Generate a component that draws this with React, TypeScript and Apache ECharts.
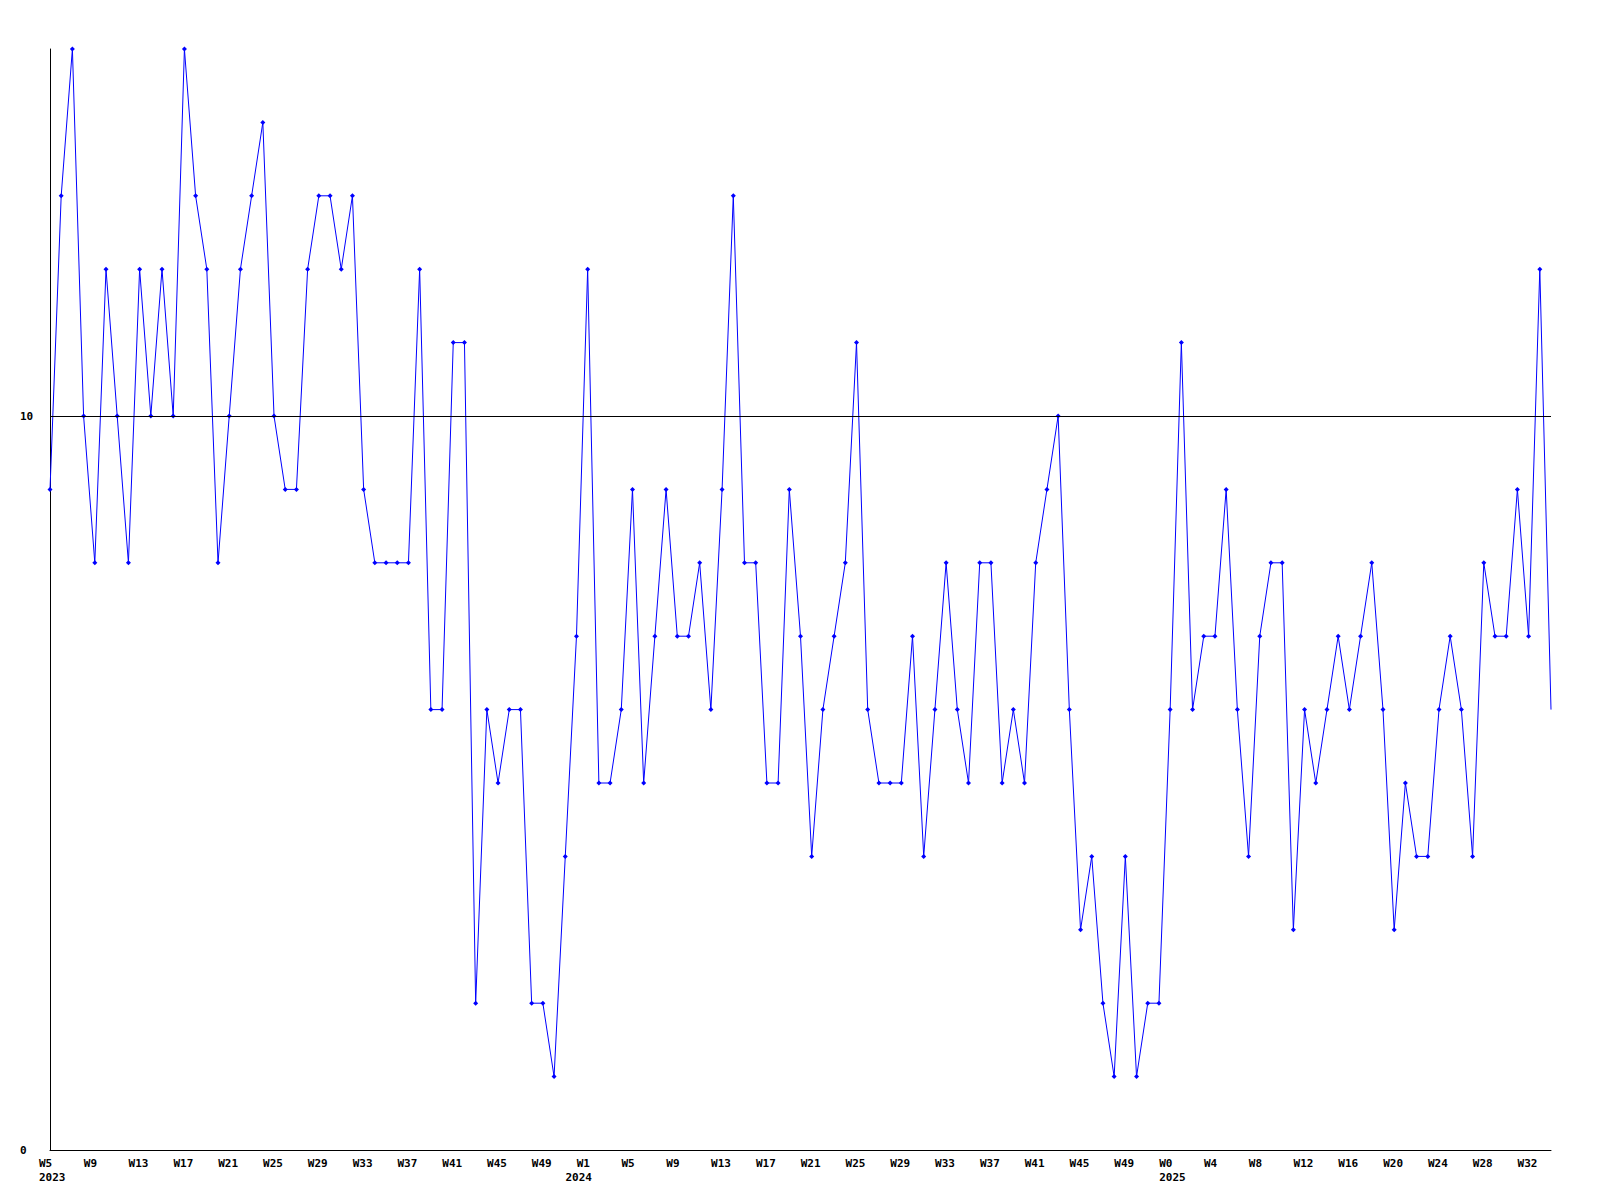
import React, { useEffect, useRef } from "react";
import * as echarts from "echarts";

// Week ranges covered by the x axis (week numbers as printed on the chart)
const weekRanges = [
  { year: 2023, first: 5, last: 52 },
  { year: 2024, first: 1, last: 52 },
  { year: 2025, first: 0, last: 34 },
];

// Year labels under the axis, and the category they are printed at
const yearLabels = [
  { text: "2023", at: "2023-W5" },
  { text: "2024", at: "2023-W52" },
  { text: "2025", at: "2025-W0" },
];

// Weekly values
const seriesValues = [
  9, 13, 15, 10, 8, 12, 10, 8, 12, 10, 12, 10, 15, 13, 12, 8, 10, 12, 13, 14,
  10, 9, 9, 12, 13, 13, 12, 13, 9, 8, 8, 8, 8, 12, 6, 6, 11, 11, 2, 6,
  5, 6, 6, 2, 2, 1, 4, 7, 12, 5, 5, 6, 9, 5, 7, 9, 7, 7, 8, 6,
  9, 13, 8, 8, 5, 5, 9, 7, 4, 6, 7, 8, 11, 6, 5, 5, 5, 7, 4, 6,
  8, 6, 5, 8, 8, 5, 6, 5, 8, 9, 10, 6, 3, 4, 2, 1, 4, 1, 2, 2,
  6, 11, 6, 7, 7, 9, 6, 4, 7, 8, 8, 3, 6, 5, 6, 7, 6, 7, 8, 6,
  3, 5, 4, 4, 6, 7, 6, 4, 8, 7, 7, 9, 7, 12, 6,
];

const referenceLevel = 10;
const yMin = 0;
const yMax = 15;
const yTickStep = 10;
const weekLabelStep = 4;

type Cat = { week: number; year: number; key: string };

const categories: Cat[] = [];
weekRanges.forEach((r) => {
  for (let w = r.first; w <= r.last; w++) {
    categories.push({ week: w, year: r.year, key: `${r.year}-W${w}` });
  }
});

const FONT = "DejaVu Sans Mono";

const labelRich = {
  a: {
    width: 22,
    align: "left",
    fontFamily: FONT,
    fontWeight: "bold",
    fontSize: 11,
    lineHeight: 14,
    color: "#000000",
  },
};

export default function App() {
  const ref = useRef<HTMLDivElement>(null);

  useEffect(() => {
    if (!ref.current) return;
    const chart = echarts.init(ref.current, undefined, { renderer: "svg" });

    const catNames = categories.map((c) => c.key);
    const yearByKey = new Map<string, string>();
    yearLabels.forEach((y) => yearByKey.set(y.at, y.text));

    const data = seriesValues.map((v, i) =>
      i === seriesValues.length - 1 ? { value: v, symbol: "none" } : v
    );

    chart.setOption({
      animation: false,
      backgroundColor: "#ffffff",
      grid: {
        left: 50,
        right: 49,
        top: 49,
        bottom: 50,
        outerBoundsMode: "none",
      },
      xAxis: [
        {
          type: "category",
          data: catNames,
          boundaryGap: false,
          position: "bottom",
          axisLine: { show: true, lineStyle: { color: "#000000", width: 1 } },
          axisTick: { show: false },
          splitLine: { show: false },
          axisLabel: {
            interval: weekLabelStep - 1,
            margin: 6,
            formatter: (_v: string, idx: number) => {
              const c = categories[idx];
              return c ? `{a|W${c.week}}` : "";
            },
            rich: labelRich,
          },
        },
        {
          type: "category",
          data: catNames,
          boundaryGap: false,
          position: "bottom",
          axisLine: { show: false },
          axisTick: { show: false },
          splitLine: { show: false },
          axisPointer: { show: false },
          axisLabel: {
            interval: (_idx: number, value: string) => yearByKey.has(value),
            margin: 20,
            formatter: (value: string) => {
              const t = yearByKey.get(value);
              return t ? `{a|${t}}` : "";
            },
            rich: labelRich,
          },
        },
      ],
      yAxis: {
        type: "value",
        min: yMin,
        max: yMax,
        interval: yTickStep,
        axisLine: { show: true, lineStyle: { color: "#000000", width: 1 } },
        axisTick: { show: false },
        splitLine: { show: false },
        axisLabel: {
          showMaxLabel: false,
          align: "left",
          margin: 30,
          fontFamily: FONT,
          fontWeight: "bold",
          fontSize: 11,
          color: "#000000",
        },
      },
      series: [
        {
          type: "line",
          xAxisIndex: 0,
          data,
          symbol: "diamond",
          symbolSize: 5,
          showSymbol: true,
          showAllSymbol: true,
          lineStyle: { color: "#0000ff", width: 1 },
          itemStyle: { color: "#0000ff" },
          emphasis: { disabled: true },
          markLine: {
            silent: true,
            symbol: "none",
            label: { show: false },
            lineStyle: { color: "#000000", type: "solid", width: 1 },
            data: [{ yAxis: referenceLevel }],
          },
        },
      ],
    });

    return () => {
      chart.dispose();
    };
  }, []);

  return (
    <div
      ref={ref}
      style={{ position: "fixed", left: 0, top: 0, width: 1600, height: 1200, background: "#fff" }}
    />
  );
}
